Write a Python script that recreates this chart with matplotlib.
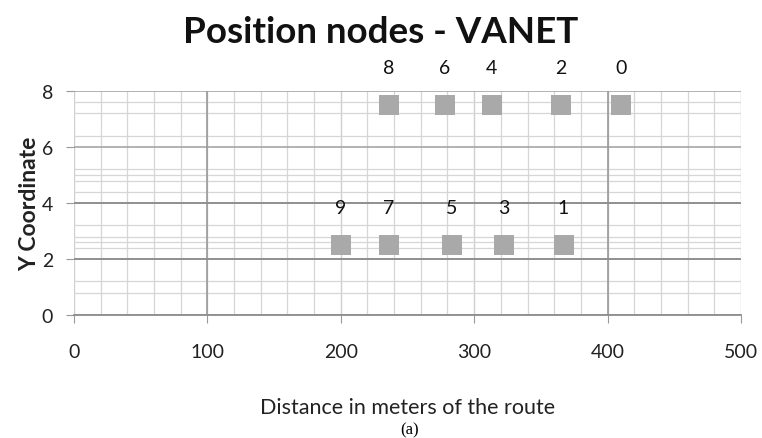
import numpy as np
import matplotlib
matplotlib.use("Agg")
import matplotlib.pyplot as plt
from matplotlib.ticker import MultipleLocator, FixedLocator

# node positions
node_ids = [0, 1, 2, 3, 4, 5, 6, 7, 8, 9]
node_x = [410, 367, 365, 322, 313, 283, 278, 236, 236, 200]
node_y = [7.5, 2.5, 7.5, 2.5, 7.5, 2.5, 7.5, 2.5, 7.5, 2.5]

x_ticks = [0, 100, 200, 300, 400, 500]
y_ticks = [0, 2, 4, 6, 8]
# minor horizontal gridlines as they appear in the (rescaled) original
y_minor = [0.8, 1.2, 2.4, 2.6, 2.8, 3.2, 4.4, 4.8, 5.0, 5.2, 6.4, 7.2, 7.6]


def plot_nodes():
    plt.rcParams['font.family'] = ['Lato', 'DejaVu Sans']
    fig = plt.figure(figsize=(7.62, 4.39), dpi=100)
    ax = fig.add_axes([0.0971, 0.2802, 0.8753, 0.5102])

    ax.scatter(node_x, node_y, marker='s', s=190, color='#a9a9a9', zorder=3,
               linewidths=0)
    for i, x, y in zip(node_ids, node_x, node_y):
        ax.annotate(str(i), (x, y), xytext=(0, 27), textcoords='offset points',
                    ha='center', va='center', fontsize=14, color='#111111')

    ax.set_xlim(0, 500)
    ax.set_ylim(0, 8)
    ax.set_xticks(x_ticks)
    ax.set_yticks(y_ticks)
    ax.xaxis.set_minor_locator(MultipleLocator(20))
    ax.yaxis.set_minor_locator(FixedLocator(y_minor))
    ax.grid(True, which='major', axis='x', color='#cfcfcf', linewidth=1.0, zorder=1)
    ax.grid(True, which='major', axis='y', color='#a5a5a5', linewidth=1.2, zorder=1)
    ax.grid(True, which='minor', color='#d6d6d6', linewidth=0.9, zorder=0)
    for xv in [100, 400]:
        ax.axvline(xv, color='#9a9a9a', linewidth=1.2, zorder=1)
    for yv in [2, 4]:
        ax.axhline(yv, color='#8f8f8f', linewidth=1.3, zorder=1)
    ax.set_axisbelow(True)

    for side in ['top', 'right', 'left']:
        ax.spines[side].set_visible(False)
    ax.spines['bottom'].set_color('#8c8c8c')
    ax.spines['bottom'].set_linewidth(1.3)
    ax.tick_params(which='major', length=6, color='#9a9a9a', labelsize=14,
                   labelcolor='#222222')
    ax.tick_params(axis='x', pad=14)
    ax.tick_params(axis='y', pad=9)
    ax.tick_params(which='minor', length=0)

    ax.set_xlabel('Distance in meters of the route', fontsize=15.5, labelpad=27,
                  color='#222222')
    ax.set_ylabel('Y Coordinate', fontsize=16.5, fontweight='bold', labelpad=1,
                  color='#222222')
    fig.text(0.5, 0.925, 'Position nodes - VANET', ha='center', va='center',
             fontsize=26.5, fontweight='bold', color='#111111')
    fig.text(0.538, 0.002, '(a)', ha='center', va='bottom', fontsize=12,
             family='Liberation Serif')

    fig.savefig('out.png', dpi=100)
    plt.close(fig)


if __name__ == "__main__":
    plot_nodes()
